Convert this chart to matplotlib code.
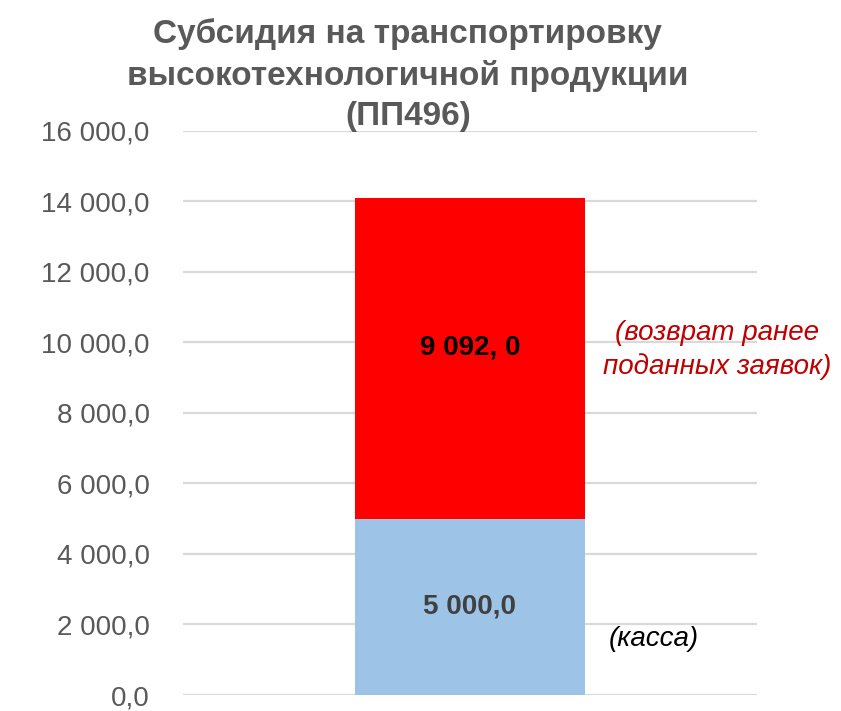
import matplotlib.pyplot as plt
from matplotlib.ticker import FuncFormatter

# data
category = ['ПП496']
kassa = [5000.0]
vozvrat = [9092.0]
kassa_label = '5 000,0'
vozvrat_label = '9 092, 0'
y_ticks = list(range(0, 16001, 2000))

FONT = ['Liberation Sans Narrow', 'Liberation Sans', 'DejaVu Sans']
plt.rcParams['font.family'] = FONT

fig = plt.figure(figsize=(8.41, 7.11), dpi=100)
ax = fig.add_axes([0.2176, 0.0225, 0.6824, 0.7933])

x = [0]
ax.bar(x, kassa, width=0.4, color='#9DC3E6', zorder=3)
ax.bar(x, vozvrat, width=0.4, bottom=kassa, color='#FF0000', zorder=3)

ax.set_xlim(-0.5, 0.5)
ax.set_ylim(0, 16000)
ax.set_yticks(y_ticks)

def fmt(v, pos):
	s = '{:,.1f}'.format(v)
	return s.replace(',', ' ').replace('.', ',')

ax.yaxis.set_major_formatter(FuncFormatter(fmt))
ax.tick_params(axis='y', length=0, pad=24, labelsize=20, labelcolor='#595959')
ax.set_xticks([])
for s in ax.spines.values():
	s.set_visible(False)
ax.grid(axis='y', color='#D9D9D9', linewidth=1.6, zorder=0)

# value labels
ax.text(0, kassa[0] / 2, kassa_label, ha='center', va='center',
	fontsize=20, fontweight='bold', color='#404040', zorder=4)
ax.text(0, kassa[0] + vozvrat[0] / 2 + 300, vozvrat_label, ha='center', va='center',
	fontsize=20, fontweight='bold', color='black', zorder=4)

# side notes
ax.text(0.43, 9780, '(возврат ранее\nподанных заявок)', ha='center', va='center',
	fontsize=20, style='italic', color='#C00000', linespacing=1.35, clip_on=False)
ax.text(0.32, 1600, '(касса)', ha='center', va='center',
	fontsize=20, style='italic', color='black', clip_on=False)

fig.text(0.485, 0.8945, 'Субсидия на транспортировку\nвысокотехнологичной продукции\n(ПП496)',
	ha='center', va='center', fontsize=24, fontweight='bold', color='#595959',
	linespacing=1.38)

fig.savefig('out.png', dpi=100)
